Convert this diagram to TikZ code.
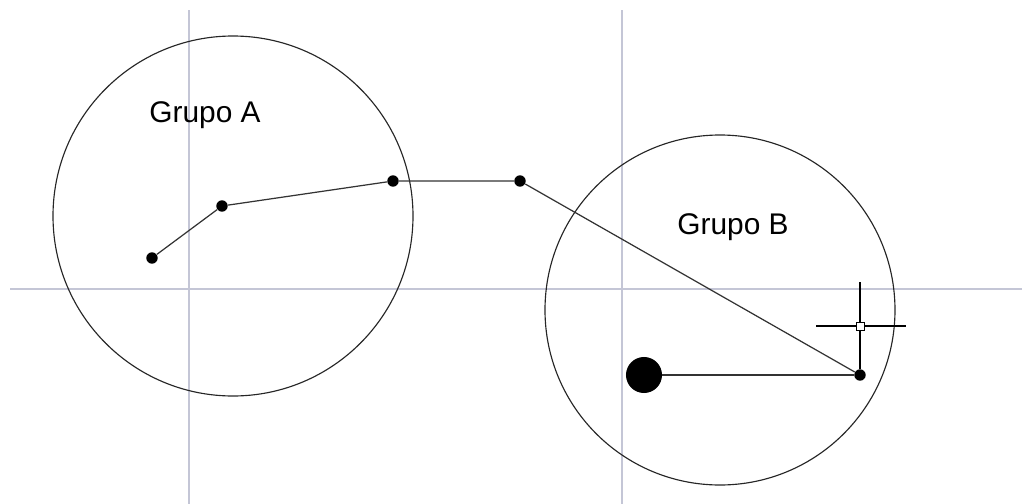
\documentclass[tikz,border=0pt]{standalone}
\usepackage{fontspec}
\setmainfont{Liberation Sans}
\definecolor{gridc}{RGB}{196,198,214}
\tikzset{
  gridline/.style={draw=gridc, line width=0.7pt},
  wire/.style={draw=black!80, line width=0.7pt},
  ring/.style={draw=black!85, line width=0.65pt},
  vertex/.style={circle, fill=black, inner sep=0pt, minimum size=6.5pt},
  bigvertex/.style={circle, fill=black, inner sep=0pt, minimum size=20.5pt},
  grouplabel/.style={font=\fontsize{17}{20}\selectfont, inner sep=0pt},
  cursorbox/.style={draw=black, fill=white, line width=0.5pt, inner sep=0pt, minimum size=4.5pt}
}
\begin{document}
\begin{tikzpicture}[x=0.02cm, y=-0.02cm]
\useasboundingbox (0,0) rectangle (1022,504);
% grid lines
\coordinate (v1t) at (189,10); \coordinate (v1b) at (189,504);
\coordinate (v2t) at (622,10); \coordinate (v2b) at (622,504);
\coordinate (hl) at (10,289); \coordinate (hr) at (1022,289);
\draw[gridline] (v1t) -- (v1b);
\draw[gridline] (v2t) -- (v2b);
\draw[gridline] (hl) -- (hr);
% circles
\coordinate (ca) at (233,216);
\coordinate (cb) at (720,310);
\draw[ring] (ca) circle[radius=180];
\draw[ring] (cb) circle[radius=175];
% labels
\node[grouplabel] (la) at (205,115) {Grupo A};
\node[grouplabel] (lb) at (733,227) {Grupo B};
% vertices
\node[vertex] (p1) at (152,258) {};
\node[vertex] (p2) at (222,206) {};
\node[vertex] (p3) at (393,181) {};
\node[vertex] (p4) at (520,181) {};
\node[vertex] (p5) at (860,375) {};
\node[bigvertex] (p6) at (644,375) {};
% wires
\draw[wire] (p1) -- (p2) -- (p3) -- (p4) -- (p5);
\draw[wire] (p6) -- (p5);
% cursor
\coordinate (ct) at (860,282);
\coordinate (cl) at (816,326);
\coordinate (cr) at (906,326);
\draw[line width=0.6pt] (ct) -- (p5);
\draw[line width=0.6pt] (cl) -- (cr);
\node[cursorbox] (cbx) at (860,326) {};
\end{tikzpicture}
\end{document}
